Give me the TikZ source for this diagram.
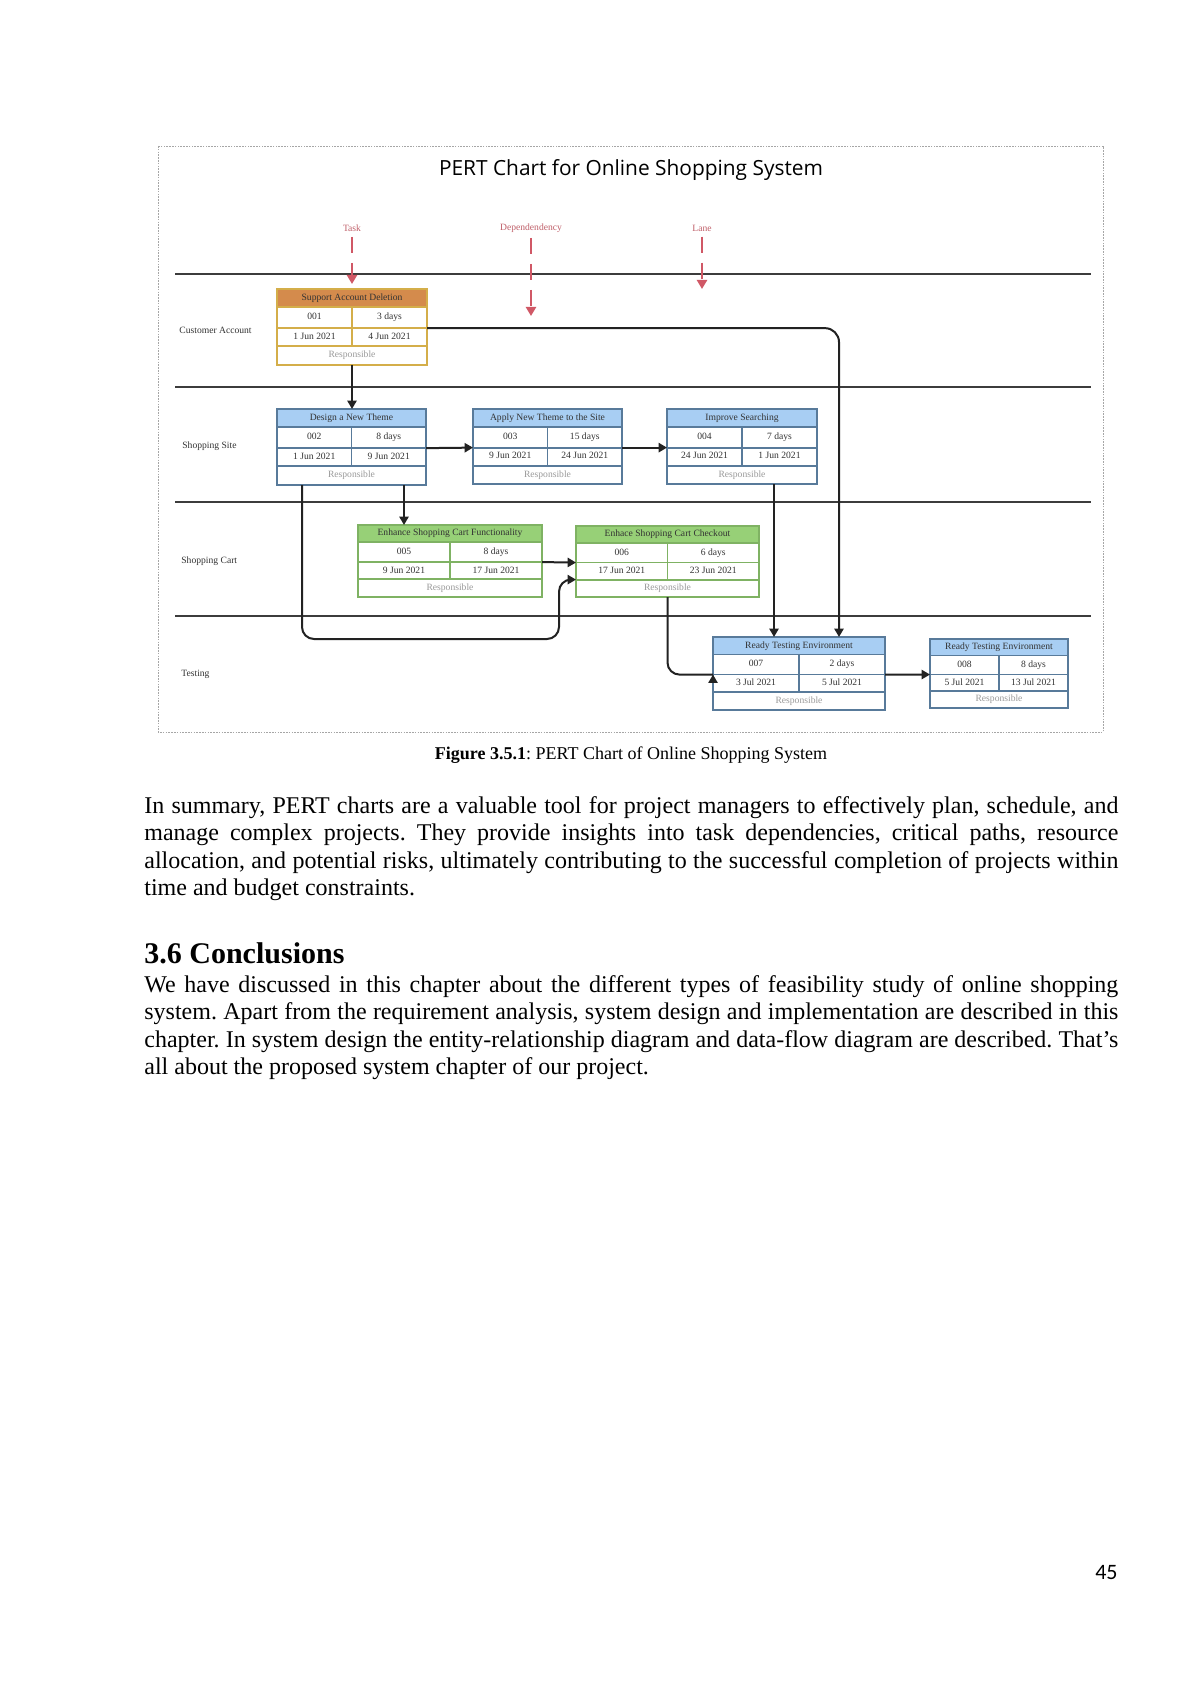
\documentclass[tikz,border=0pt]{standalone}
\usepackage{fontspec}
\usepackage{graphicx}
\setmainfont{Liberation Serif}
\newfontfamily\titlefont{Open Sans}
\newfontfamily\pagefont{Carlito}
\usetikzlibrary{arrows.meta}
\frenchspacing

\definecolor{orfill}{HTML}{D48B4C}
\definecolor{orline}{HTML}{D4AE4A}
\definecolor{blfill}{HTML}{A8CEF3}
\definecolor{blline}{HTML}{587A9A}
\definecolor{grfill}{HTML}{97D077}
\definecolor{grline}{HTML}{7FB263}
\definecolor{celltext}{HTML}{333333}
\definecolor{respgray}{HTML}{9A9A9A}
\definecolor{redlab}{HTML}{C0606A}
\definecolor{redarrow}{HTML}{D05866}
\definecolor{lanegray}{HTML}{3C3C3C}
\definecolor{conncol}{HTML}{222222}

\def\tbfields#1|#2|#3|#4\tbend{\def\tbid{#1}\def\tbdur{#2}\def\tbst{#3}\def\tben{#4}}
\newcommand\taskbox[8]{%
  \tbfields#8\tbend
  \pgfmathsetmacro\tbA{#3+0.24*#5}%
  \pgfmathsetmacro\tbB{#3+0.515*#5}%
  \pgfmathsetmacro\tbC{#3+0.755*#5}%
  \pgfmathsetmacro\tbD{#3+#5}%
  \pgfmathsetmacro\tbM{#2+#4/2}%
  \pgfmathsetmacro\tbR{#2+#4}%
  \pgfmathsetmacro\tbQa{#2+#4/4}%
  \pgfmathsetmacro\tbQb{#2+3*#4/4}%
  \pgfmathsetmacro\tbYa{(#3+\tbA)/2}%
  \pgfmathsetmacro\tbYb{(\tbA+\tbB)/2}%
  \pgfmathsetmacro\tbYc{(\tbB+\tbC)/2}%
  \pgfmathsetmacro\tbYd{(\tbC+\tbD)/2}%
  \node[tbox, minimum width=#4*0.5pt, minimum height=#5*0.5pt] (#1) at (#2,#3) {};
  \fill[#6fill] (#2,#3) rectangle (\tbR,\tbA);
  \draw[tline, draw=#6line] (#2,#3) rectangle (\tbR,\tbD)
     (#2,\tbA) -- (\tbR,\tbA) (#2,\tbB) -- (\tbR,\tbB) (#2,\tbC) -- (\tbR,\tbC)
     (\tbM,\tbA) -- (\tbM,\tbC);
  \node[tcell] (#1-h) at (\tbM,\tbYa) {#7};
  \node[tcell] (#1-id) at (\tbQa,\tbYb) {\tbid};
  \node[tcell] (#1-du) at (\tbQb,\tbYb) {\tbdur};
  \node[tcell] (#1-st) at (\tbQa,\tbYc) {\tbst};
  \node[tcell] (#1-en) at (\tbQb,\tbYc) {\tben};
  \node[tcell, text=respgray] (#1-rp) at (\tbM,\tbYd) {Responsible};
  \coordinate (#1-r1w) at (#2,\tbB);
  \coordinate (#1-r1e) at (\tbR,\tbB);
  \coordinate (#1-r2w) at (#2,\tbC);
}

\begin{document}
\begin{tikzpicture}[x=0.5pt, y=-0.5pt,
  tbox/.style={anchor=north west, inner sep=0pt, outer sep=0pt, fill=white},
  tline/.style={line width=0.9pt},
  tcell/.style={inner sep=0pt, text=celltext, font=\fontsize{4.8pt}{5.8pt}\selectfont, text height=3.3pt, text depth=1pt},
  lanelbl/.style={anchor=west, inner sep=0pt, text=celltext, font=\fontsize{4.8pt}{5.8pt}\selectfont},
  laneline/.style={draw=lanegray, line width=1pt},
  conn/.style={draw=conncol, line width=1pt},
  arrowed/.style={-{Triangle[length=4.2pt,width=4.6pt]}},
  redlbl/.style={inner sep=0pt, text=redlab, font=\fontsize{4.8pt}{5.8pt}\selectfont},
  redarr/.style={draw=redarrow, line width=1.3pt, dash pattern=on 8pt off 5pt, -{Triangle[length=4.5pt,width=5pt]}, shorten <=2.5pt},
  bodyline/.style={anchor=base west, inner sep=0pt, font=\fontsize{12pt}{14pt}\selectfont}
]
\fill[white] (0,0) rectangle (1191,1684);
\useasboundingbox (0,0) rectangle (1191,1684);

% frame
\draw[gray!70, line width=0.4pt, dash pattern=on 0.8pt off 0.6pt] (158,146) rectangle (1103,732);

% title
\node[anchor=base, inner sep=0pt] (title) at (631,176) {\titlefont\resizebox{192pt}{!}{PERT Chart for Online Shopping System}};

% lanes
\draw[laneline] (175,274) -- (1091,274);
\draw[laneline] (175,387) -- (1091,387);
\draw[laneline] (175,502) -- (1091,502);
\draw[laneline] (175,616) -- (1091,616);

\node[lanelbl] (lane1) at (179,330) {Customer Account};
\node[lanelbl] (lane2) at (182,446) {Shopping Site};
\node[lanelbl] (lane3) at (181,561) {Shopping Cart};
\node[lanelbl] (lane4) at (181,674) {Testing};

% legend labels with red arrows
\node[redlbl] (lbltask) at (352,228) {Task};
\node[redlbl] (lbldep) at (531,228) {Dependendency};
\node[redlbl] (lbllane) at (702,228) {Lane};
\coordinate (tiptask) at (352,284);
\coordinate (tipdep) at (531,316);
\coordinate (tiplane) at (702,289);
\draw[redarr] (lbltask.south) -- (tiptask);
\draw[redarr] (lbldep.south) -- (tipdep);
\draw[redarr] (lbllane.south) -- (tiplane);

% task boxes
\taskbox{t1}{277}{289}{150}{76}{or}{Support Account Deletion}{001|3 days|1 Jun 2021|4 Jun 2021}
\taskbox{t2}{277}{409}{149}{76}{bl}{Design a New Theme}{002|8 days|1 Jun 2021|9 Jun 2021}
\taskbox{t3}{473}{409}{149}{75}{bl}{Apply New Theme to the Site}{003|15 days|9 Jun 2021|24 Jun 2021}
\taskbox{t4}{667}{409}{150}{75}{bl}{Improve Searching}{004|7 days|24 Jun 2021|1 Jun 2021}
\taskbox{t5}{358}{525}{184}{72}{gr}{Enhance Shopping Cart Functionality}{005|8 days|9 Jun 2021|17 Jun 2021}
\taskbox{t6}{576}{526}{183}{71}{gr}{Enhace Shopping Cart Checkout}{006|6 days|17 Jun 2021|23 Jun 2021}
\taskbox{t7}{713}{637}{172}{73}{bl}{Ready Testing Environment}{007|2 days|3 Jul 2021|5 Jul 2021}
\taskbox{t8}{930}{639}{138}{69}{bl}{Ready Testing Environment}{008|8 days|5 Jul 2021|13 Jul 2021}

% helper coordinates for connector routes
\coordinate (x839) at (839,0);
\coordinate (x774) at (774,0);
\coordinate (x404) at (404,0);
\coordinate (x302) at (302,0);
\coordinate (x559) at (559,0);
\coordinate (y639) at (0,639);

% connectors
\draw[conn, arrowed] (t1.south) -- (t1.south |- t2.north);
\draw[conn, arrowed, rounded corners=7pt] (t1-r1e) -| (t7.north -| x839);
\draw[conn, arrowed] (t2-r1e) -- (t3-r1w);
\draw[conn, arrowed] (t3-r1e) -- (t4-r1w);
\draw[conn, arrowed] (t2.south -| x404) -- (t5.north -| x404);
\draw[conn, arrowed] (t2.south -| x302) [rounded corners=6pt] -- (x302 |- y639) -- (x559 |- y639) -- (x559 |- t6-r2w) [rounded corners=2.5pt] -- (t6-r2w);
\draw[conn, arrowed] (t4.south -| x774) -- (t7.north -| x774);
\draw[conn, arrowed] (t5-r1e) -- (t6-r1w);
\draw[conn, rounded corners=6pt] (t6.south) |- (t7-r1w);
\draw[conn, arrowed] ([yshift=-3.5pt]t7-r1w) -- (t7-r1w);
\draw[conn, arrowed] (t7-r1e) -- (t8-r1w);

% caption
\node[anchor=base, inner sep=0pt] (caption) at (631,759) {\fontsize{9pt}{11pt}\selectfont\textbf{Figure 3.5.1}: PERT Chart of Online Shopping System};

% body paragraph 1
\node[bodyline] (p1a) at (144,813) {\makebox[487pt][s]{In summary, PERT charts are a valuable tool for project managers to effectively plan, schedule, and}};
\node[bodyline] (p1b) at (144,840.5) {\makebox[487pt][s]{manage complex projects. They provide insights into task dependencies, critical paths, resource}};
\node[bodyline] (p1c) at (144,868) {\makebox[487pt][s]{allocation, and potential risks, ultimately contributing to the successful completion of projects within}};
\node[bodyline] (p1d) at (144,895.5) {time and budget constraints.};

% heading
\node[anchor=base west, inner sep=0pt] (h36) at (144,963) {\fontsize{15pt}{18pt}\selectfont\bfseries 3.6 Conclusions};

% body paragraph 2
\node[bodyline] (p2a) at (144,992) {\makebox[487pt][s]{We have discussed in this chapter about the different types of feasibility study of online shopping}};
\node[bodyline] (p2b) at (144,1019.5) {\makebox[487pt][s]{system. Apart from the requirement analysis, system design and implementation are described in this}};
\node[bodyline] (p2c) at (144,1047) {\makebox[487pt][s]{chapter. In system design the entity-relationship diagram and data-flow diagram are described. That’s}};
\node[bodyline] (p2d) at (144,1074.5) {all about the proposed system chapter of our project.};

% page number
\node[anchor=base east, inner sep=0pt] (pagenum) at (1118,1579) {\pagefont\fontsize{11pt}{13pt}\selectfont 45};
\end{tikzpicture}
\end{document}
